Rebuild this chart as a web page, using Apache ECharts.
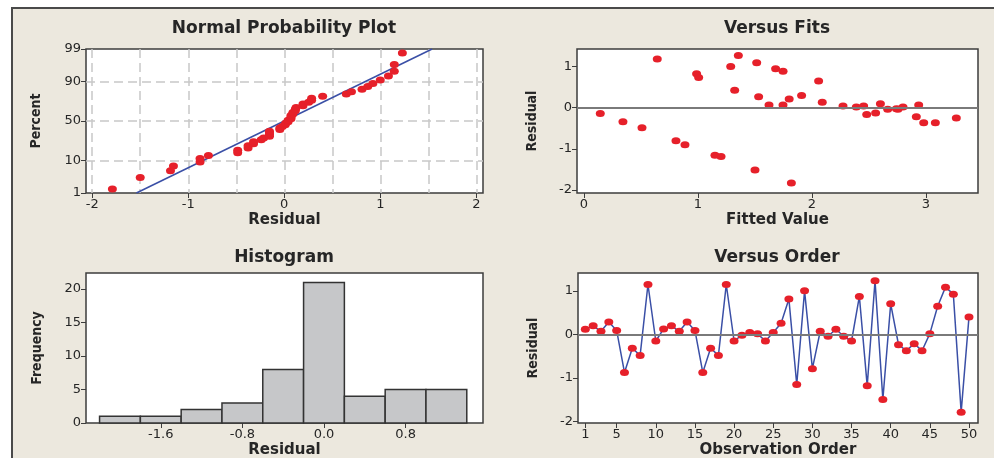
<!DOCTYPE html>
<html>
<head>
<meta charset="utf-8">
<script src="https://cdn.jsdelivr.net/npm/echarts@6/dist/echarts.min.js"></script>
<style>
  html, body { margin: 0; padding: 0; background: #ffffff; }
  #wrap { position: relative; width: 994px; height: 458px; overflow: hidden; }
  #panel { position: absolute; left: 11px; top: 7px; width: 1000px; height: 480px;
           background: #ece8de; border-top: 2px solid #4a4a4a; border-left: 2px solid #4a4a4a; }
  #chart { position: absolute; left: 0; top: 0; width: 994px; height: 458px; }
</style>
</head>
<body>
<div id="wrap"><div id="panel"></div><div id="chart"></div></div>
<script>
// Residuals in observation order (observations 1..50)
const residuals = [
  0.115, 0.195, 0.07, 0.285, 0.09, -0.877, -0.32, -0.485, 1.146, -0.154,
  0.123, 0.195, 0.07, 0.285, 0.09, -0.877, -0.32, -0.485, 1.146, -0.154,
  -0.02, 0.04, 0.01, -0.154, 0.04, 0.254, 0.81, -1.154, 1.0, -0.79,
  0.07, -0.046, 0.115, -0.046, -0.154, 0.87, -1.185, 1.23, -1.5, 0.70,
  -0.24, -0.377, -0.215, -0.377, 0.015, 0.646, 1.085, 0.923, -1.79, 0.40
];
const observationTicks = [1, 5, 10, 15, 20, 25, 30, 35, 40, 45, 50];

// Residuals against fitted values
const fittedValues = [
  0.143, 0.342, 0.509, 0.643, 0.807, 0.886, 0.988, 1.006, 1.149, 1.202,
  1.287, 1.322, 1.354, 1.500, 1.515, 1.532, 1.623, 1.681, 1.746, 1.746,
  1.800, 1.819, 1.909, 2.058, 2.090, 2.272, 2.389, 2.453, 2.480, 2.558,
  2.600, 2.664, 2.740, 2.754, 2.798, 2.915, 2.936, 2.980, 3.082, 3.266
];
const fittedResiduals = [
  -0.138, -0.341, -0.488, 1.179, -0.805, -0.902, 0.821, 0.732, -1.154, -1.187,
  1.0, 0.423, 1.268, -1.512, 1.089, 0.268, 0.065, 0.943, 0.886, 0.065,
  0.211, -1.829, 0.293, 0.65, 0.13, 0.04, 0.016, 0.04, -0.163, -0.13,
  0.098, -0.04, -0.024, -0.04, 0.016, -0.22, 0.065, -0.366, -0.366, -0.252
];
const fittedTicks = [0, 1, 2, 3];
const residualAxisTicks = [-2, -1, 0, 1];

// Histogram of residuals
const binCenters = [-2.0, -1.6, -1.2, -0.8, -0.4, 0.0, 0.4, 0.8, 1.2];
const binCounts = [1, 1, 2, 3, 8, 21, 4, 5, 5];
const binWidth = 0.4;
const histTicks = [-1.6, -0.8, 0.0, 0.8];
const frequencyTicks = [0, 5, 10, 15, 20];

// Normal probability plot
const percentTicks = [1, 10, 50, 90, 99];
const percentGridLines = [10, 50, 90];
const normalResidualTicks = [-2, -1, 0, 1, 2];
const normalResidualGridLines = [-2, -1.5, -1, -0.5, 0, 0.5, 1, 1.5, 2];
const fitLineResidual = [-1.54, 1.54];
const fitLinePercent = [1, 99];

// Inverse standard normal CDF (Acklam's rational approximation)
function normInv(p) {
  const a = [-3.969683028665376e+01, 2.209460984245205e+02, -2.759285104469687e+02,
             1.383577518672690e+02, -3.066479806614716e+01, 2.506628277459239e+00];
  const b = [-5.447609879822406e+01, 1.615858368580409e+02, -1.556989798598866e+02,
             6.680131188771972e+01, -1.328068155288572e+01];
  const c = [-7.784894002430293e-03, -3.223964580411365e-01, -2.400758277161838e+00,
             -2.549732539343734e+00, 4.374664141464968e+00, 2.938163982698783e+00];
  const d = [7.784695709041462e-03, 3.224671290700398e-01, 2.445134137142996e+00,
             3.754408661907416e+00];
  const pl = 0.02425, ph = 1 - pl;
  let q, r;
  if (p < pl) {
    q = Math.sqrt(-2 * Math.log(p));
    return (((((c[0]*q+c[1])*q+c[2])*q+c[3])*q+c[4])*q+c[5]) / ((((d[0]*q+d[1])*q+d[2])*q+d[3])*q+1);
  }
  if (p > ph) {
    q = Math.sqrt(-2 * Math.log(1 - p));
    return -(((((c[0]*q+c[1])*q+c[2])*q+c[3])*q+c[4])*q+c[5]) / ((((d[0]*q+d[1])*q+d[2])*q+d[3])*q+1);
  }
  q = p - 0.5; r = q * q;
  return (((((a[0]*r+a[1])*r+a[2])*r+a[3])*r+a[4])*r+a[5])*q / (((((b[0]*r+b[1])*r+b[2])*r+b[3])*r+b[4])*r+1);
}
const zOf = pct => normInv(pct / 100);

// Sorted residuals against median-rank plotting positions
const sortedResiduals = residuals.slice().sort((u, v) => u - v);
const n = sortedResiduals.length;
const normalPoints = sortedResiduals.map((r, i) => [r, normInv((i + 1 - 0.3) / (n + 0.4))]);
const fitLinePoints = fitLineResidual.map((r, i) => [r, zOf(fitLinePercent[i])]);

const RED = '#e6202a';
const BLUE = '#3a4fa6';
const FRAME = '#3c3c3c';
const tickFont = { fontFamily: 'DejaVu Sans', fontSize: 13, color: '#262626' };
const nameFontH = { fontFamily: 'DejaVu Sans', fontWeight: 'bold', fontSize: 15, color: '#262626' };
const nameFontV = { fontFamily: '"DejaVu Sans Condensed", sans-serif',
                    fontWeight: 'bold', fontSize: 14, color: '#262626' };
const titleFont = { fontFamily: 'DejaVu Sans', fontWeight: 'bold', fontSize: 17, color: '#262626' };

function gridBox(left, top, width, height) {
  return { left, top, width, height, show: true, backgroundColor: '#ffffff',
           borderColor: FRAME, borderWidth: 1.5, containLabel: false, outerBoundsMode: 'none' };
}

function axis(gridIndex, min, max, ticks, extra) {
  return Object.assign({
    type: 'value', gridIndex, min, max,
    axisLine: { show: false, onZero: false },
    axisTick: { show: true, inside: false, length: 5, customValues: ticks,
                lineStyle: { color: FRAME, width: 1 } },
    axisLabel: Object.assign({ show: true, margin: 5, customValues: ticks, hideOverlap: false }, tickFont),
    splitLine: { show: false },
    nameMoveOverlap: false
  }, extra);
}

function gridOverlay(gridIndex, min, max, values, position) {
  return {
    type: 'value', gridIndex, min, max, position,
    axisLine: { show: false },
    axisTick: { show: false, customValues: values },
    axisLabel: { show: false, customValues: values },
    splitLine: { show: true, lineStyle: { color: '#c8c8c8', width: 1.5, type: [9, 5] } }
  };
}

function title(text, x, y) {
  return { text, left: x, top: y, textAlign: 'center', textVerticalAlign: 'middle',
           padding: 0, textStyle: titleFont };
}

const zeroLine = {
  silent: true, symbol: 'none', animation: false,
  label: { show: false },
  lineStyle: { color: '#7a7a7a', width: 2, type: 'solid' },
  data: [{ yAxis: 0 }]
};

const zMin = zOf(percentTicks[0]);
const zMax = zOf(percentTicks[percentTicks.length - 1]);

const option = {
  animation: false,
  backgroundColor: 'transparent',
  title: [
    title('Normal Probability Plot', 284, 29),
    title('Versus Fits', 777, 29),
    title('Histogram', 284, 258),
    title('Versus Order', 777, 258)
  ],
  grid: [
    gridBox(86, 49, 397, 144),
    gridBox(577, 49, 401, 144),
    gridBox(86, 273, 397, 150),
    gridBox(578, 273, 400, 150)
  ],
  xAxis: [
    axis(0, -2.065, 2.07, normalResidualTicks, {
      name: 'Residual', nameLocation: 'middle', nameGap: 20, nameTextStyle: nameFontH }),
    gridOverlay(0, -2.065, 2.07, normalResidualGridLines, 'top'),
    axis(1, -0.061, 3.456, fittedTicks, {
      name: 'Fitted Value', nameLocation: 'middle', nameGap: 20, nameTextStyle: nameFontH }),
    axis(2, -2.333, 1.559, histTicks, {
      name: 'Residual', nameLocation: 'middle', nameGap: 20, nameTextStyle: nameFontH,
      axisLabel: Object.assign({ show: true, margin: 5, customValues: histTicks, hideOverlap: false,
                                 formatter: v => v.toFixed(1) }, tickFont) }),
    axis(3, 0.065, 51.15, observationTicks, {
      name: 'Observation Order', nameLocation: 'middle', nameGap: 20, nameTextStyle: nameFontH })
  ],
  yAxis: [
    axis(0, zMin, zMax, percentTicks.map(zOf), {
      name: 'Percent', nameLocation: 'middle', nameGap: 43, nameTextStyle: nameFontV,
      axisLabel: Object.assign({
        show: true, margin: 5, customValues: percentTicks.map(zOf), hideOverlap: false,
        formatter: v => {
          let best = percentTicks[0];
          percentTicks.forEach(p => { if (Math.abs(zOf(p) - v) < Math.abs(zOf(best) - v)) best = p; });
          return String(best);
        } }, tickFont) }),
    gridOverlay(0, zMin, zMax, percentGridLines.map(zOf), 'right'),
    axis(1, -2.07, 1.424, residualAxisTicks, {
      name: 'Residual', nameLocation: 'middle', nameGap: 38, nameTextStyle: nameFontV }),
    axis(2, 0, 22.4, frequencyTicks, {
      name: 'Frequency', nameLocation: 'middle', nameGap: 42, nameTextStyle: nameFontV }),
    axis(3, -2.04, 1.41, residualAxisTicks, {
      name: 'Residual', nameLocation: 'middle', nameGap: 38, nameTextStyle: nameFontV })
  ],
  series: [
    {
      type: 'line', xAxisIndex: 0, yAxisIndex: 0, data: fitLinePoints,
      showSymbol: false, symbol: 'none', silent: true,
      lineStyle: { color: BLUE, width: 1.5 }, z: 3
    },
    {
      type: 'scatter', xAxisIndex: 0, yAxisIndex: 0, data: normalPoints,
      symbol: 'circle', symbolSize: [9, 7], itemStyle: { color: RED, opacity: 1 }, z: 4
    },
    {
      type: 'scatter', xAxisIndex: 2, yAxisIndex: 2,
      data: fittedValues.map((f, i) => [f, fittedResiduals[i]]),
      symbol: 'circle', symbolSize: [9, 7], itemStyle: { color: RED, opacity: 1 }, z: 4,
      markLine: zeroLine
    },
    {
      type: 'custom', xAxisIndex: 3, yAxisIndex: 3,
      data: binCenters.map((c, i) => [c, binCounts[i]]),
      renderItem: (params, api) => {
        const c = api.value(0), h = api.value(1);
        const p0 = api.coord([c - binWidth / 2, h]);
        const p1 = api.coord([c + binWidth / 2, 0]);
        return {
          type: 'rect',
          shape: { x: p0[0], y: p0[1], width: p1[0] - p0[0], height: p1[1] - p0[1] },
          style: { fill: '#c6c7c9', stroke: '#333333', lineWidth: 1.5 }
        };
      }
    },
    {
      type: 'line', xAxisIndex: 4, yAxisIndex: 4,
      data: residuals.map((r, i) => [i + 1, r]),
      symbol: 'circle', symbolSize: [9, 7], showSymbol: true, showAllSymbol: true,
      lineStyle: { color: BLUE, width: 1.5 },
      itemStyle: { color: RED, borderWidth: 0 }, z: 4,
      markLine: zeroLine
    }
  ]
};

const chart = echarts.init(document.getElementById('chart'), null, { renderer: 'canvas' });
chart.setOption(option);
</script>
</body>
</html>
